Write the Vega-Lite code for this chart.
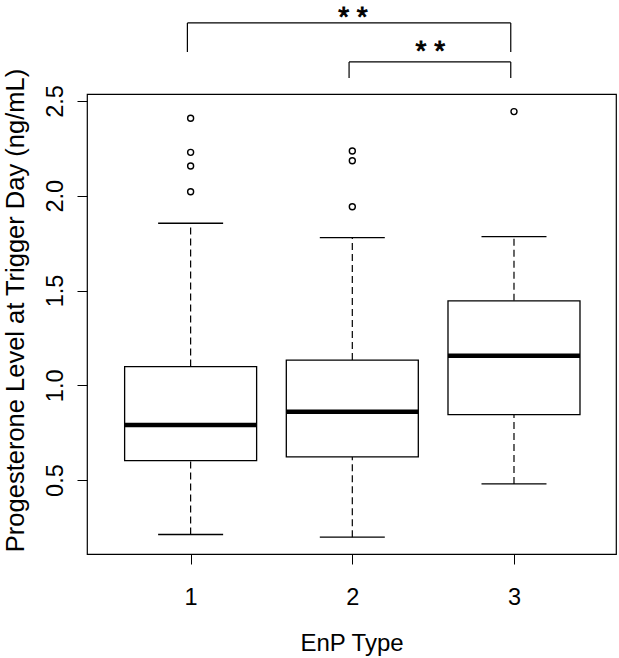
{
  "$schema": "https://vega.github.io/schema/vega-lite/v6.json",
  "width": 529,
  "height": 460,
  "autosize": {"type": "none"},
  "padding": {"left": 87, "top": 94, "right": 3, "bottom": 104},
  "background": "white",
  "config": {
    "font": "Liberation Sans",
    "view": {"stroke": "black", "strokeWidth": 1.2},
    "axis": {
      "domain": false,
      "grid": false,
      "tickColor": "black",
      "tickSize": 10,
      "tickWidth": 1,
      "labelFont": "Liberation Sans",
      "labelFontSize": 23.5,
      "labelColor": "black",
      "titleFont": "Liberation Sans",
      "titleFontWeight": "normal",
      "titleColor": "black"
    }
  },
  "datasets": {
    "stats": [
      {"group": 1, "lo": 0.213, "q1": 0.603, "med": 0.79, "q3": 1.099, "hi": 1.855},
      {"group": 2, "lo": 0.199, "q1": 0.623, "med": 0.86, "q3": 1.133, "hi": 1.779},
      {"group": 3, "lo": 0.48, "q1": 0.845, "med": 1.156, "q3": 1.446, "hi": 1.784}
    ],
    "outliers": [
      {"group": 1, "value": 2.409},
      {"group": 1, "value": 2.229},
      {"group": 1, "value": 2.157},
      {"group": 1, "value": 2.021},
      {"group": 2, "value": 2.236},
      {"group": 2, "value": 2.185},
      {"group": 2, "value": 1.942},
      {"group": 3, "value": 2.444}
    ],
    "brackets": [
      {"group": 0.98, "group2": 2.98, "value": 2.912, "value2": 2.912},
      {"group": 0.98, "group2": 0.98, "value": 2.759, "value2": 2.912},
      {"group": 2.98, "group2": 2.98, "value": 2.759, "value2": 2.912},
      {"group": 1.98, "group2": 2.98, "value": 2.706, "value2": 2.706},
      {"group": 1.98, "group2": 1.98, "value": 2.621, "value2": 2.706},
      {"group": 2.98, "group2": 2.98, "value": 2.621, "value2": 2.706}
    ],
    "stars": [
      {"group": 2.004, "value": 2.898, "label": "* *"},
      {"group": 2.483, "value": 2.716, "label": "* *"}
    ]
  },
  "encoding": {
    "x": {
      "field": "group",
      "type": "quantitative",
      "title": "EnP Type",
      "scale": {"domain": [0.39, 3.6], "nice": false, "zero": false},
      "axis": {
        "values": [1, 2, 3],
        "format": "d",
        "labelBaseline": "alphabetic",
        "labelPadding": 40,
        "titleFontSize": 24,
        "titleBaseline": "alphabetic",
        "titleAnchor": "middle",
        "titleX": 264.5,
        "titleY": 96
      }
    }
  },
  "layer": [
    {
      "data": {"name": "stats"},
      "mark": {"type": "rule", "color": "black", "strokeWidth": 1.2, "strokeDash": [7, 4]},
      "encoding": {
        "y": {
          "field": "q3",
          "type": "quantitative",
          "title": "Progesterone Level at Trigger Day (ng/mL)",
          "scale": {"domain": [0.1101, 2.5369], "nice": false, "zero": false},
          "axis": {
            "values": [0.5, 1, 1.5, 2, 2.5],
            "format": ".1f",
            "labelAngle": 270,
            "labelAlign": "center",
            "labelBaseline": "alphabetic",
            "labelPadding": 15,
            "titleFontSize": 25.5,
            "titleAngle": 270,
            "titleAlign": "center",
            "titleBaseline": "alphabetic",
            "titleX": -64,
            "titleY": 216
          }
        },
        "y2": {"field": "hi"}
      }
    },
    {
      "data": {"name": "stats"},
      "mark": {"type": "rule", "color": "black", "strokeWidth": 1.2, "strokeDash": [7, 4]},
      "encoding": {
        "y": {"field": "lo", "type": "quantitative", "title": "Progesterone Level at Trigger Day (ng/mL)"},
        "y2": {"field": "q1"}
      }
    },
    {
      "data": {"name": "stats"},
      "mark": {"type": "tick", "orient": "horizontal", "size": 65, "thickness": 1.3, "color": "black", "opacity": 1},
      "encoding": {
        "y": {"field": "hi", "type": "quantitative", "title": "Progesterone Level at Trigger Day (ng/mL)"}
      }
    },
    {
      "data": {"name": "stats"},
      "mark": {"type": "tick", "orient": "horizontal", "size": 65, "thickness": 1.3, "color": "black", "opacity": 1},
      "encoding": {
        "y": {"field": "lo", "type": "quantitative", "title": "Progesterone Level at Trigger Day (ng/mL)"}
      }
    },
    {
      "data": {"name": "stats"},
      "mark": {"type": "bar", "size": 132, "fill": "white", "stroke": "black", "strokeWidth": 1.3},
      "encoding": {
        "y": {"field": "q1", "type": "quantitative", "title": "Progesterone Level at Trigger Day (ng/mL)"},
        "y2": {"field": "q3"}
      }
    },
    {
      "data": {"name": "stats"},
      "mark": {"type": "tick", "orient": "horizontal", "size": 132, "thickness": 4.5, "color": "black", "opacity": 1},
      "encoding": {
        "y": {"field": "med", "type": "quantitative", "title": "Progesterone Level at Trigger Day (ng/mL)"}
      }
    },
    {
      "data": {"name": "outliers"},
      "mark": {"type": "point", "shape": "circle", "filled": false, "stroke": "black", "strokeWidth": 1.4, "size": 36, "opacity": 1},
      "encoding": {
        "y": {"field": "value", "type": "quantitative", "title": "Progesterone Level at Trigger Day (ng/mL)"}
      }
    },
    {
      "data": {"name": "brackets"},
      "mark": {"type": "rule", "color": "black", "strokeWidth": 1.2, "clip": false},
      "encoding": {
        "x2": {"field": "group2"},
        "y": {"field": "value", "type": "quantitative", "title": "Progesterone Level at Trigger Day (ng/mL)"},
        "y2": {"field": "value2"}
      }
    },
    {
      "data": {"name": "stars"},
      "mark": {"type": "text", "fontSize": 28, "align": "center", "baseline": "alphabetic", "color": "black", "stroke": "black", "strokeWidth": 0.9, "clip": false},
      "encoding": {
        "y": {"field": "value", "type": "quantitative", "title": "Progesterone Level at Trigger Day (ng/mL)"},
        "text": {"field": "label"}
      }
    }
  ]
}
